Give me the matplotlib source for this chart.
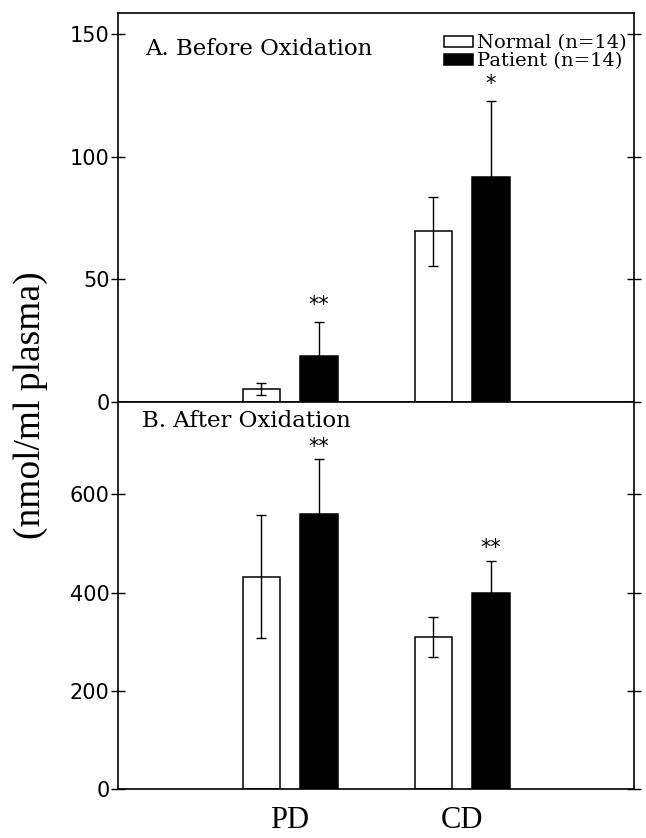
import numpy as np
from matplotlib import pyplot as plt

# values (nmol/ml plasma), mean and SD
groups = ['PD', 'CD']
before_normal     = [5.4, 69.5]
before_normal_sd  = [2.4, 14.0]
before_patient    = [18.7, 91.8]
before_patient_sd = [14.0, 30.8]
after_normal      = [432, 309]
after_normal_sd   = [125, 41]
after_patient     = [560, 399]
after_patient_sd  = [111, 66]
stars_before = ['**', '*']
stars_after  = ['**', '**']

x = np.arange(1, len(groups) + 1)
w = 0.22
off = 0.166

fig = plt.figure(figsize=(6.46, 8.38), dpi=100)
ax1 = fig.add_axes([0.1827, 0.5203, 0.7988, 0.4642])
ax2 = fig.add_axes([0.1827, 0.0585, 0.7988, 0.4618])


def panel(ax, normal, normal_sd, patient, patient_sd, stars, gap):
    errkw = dict(ecolor='black', elinewidth=1.0, capsize=3.5, capthick=1.0)
    b1 = ax.bar(x - off, normal, w, yerr=normal_sd, color='white',
                edgecolor='black', linewidth=1.1, error_kw=errkw,
                label='Normal (n=14)')
    b2 = ax.bar(x + off, patient, w, yerr=patient_sd, color='black',
                edgecolor='black', linewidth=1.1, error_kw=errkw,
                label='Patient (n=14)')
    for xi, m, s, st in zip(x + off, patient, patient_sd, stars):
        ax.annotate(st, (xi, m + s), xytext=(0, gap), textcoords='offset points',
                    ha='center', va='bottom', fontsize=15, family='DejaVu Sans')
    ax.set_xlim(0, 3)
    for sp in ax.spines.values():
        sp.set_linewidth(1.2)
    ax.tick_params(axis='y', direction='inout', length=10, width=1.0,
                   right=True, labelsize=15, pad=1)
    return b1, b2


b1, b2 = panel(ax1, before_normal, before_normal_sd,
               before_patient, before_patient_sd, stars_before, 5)
panel(ax2, after_normal, after_normal_sd,
      after_patient, after_patient_sd, stars_after, 2)

ax1.set_ylim(0, 158.5)
ax1.set_yticks([0, 50, 100, 150])
ax2.set_ylim(0, 788)
ax2.set_yticks([0, 200, 400, 600])

ax1.set_xticks([])
ax2.set_xticks(x)
ax2.set_xticklabels(groups, family='Liberation Serif', fontsize=22)
ax2.tick_params(axis='x', length=0, pad=12)

ax1.text(0.052, 0.892, 'A. Before Oxidation', transform=ax1.transAxes,
         family='DejaVu Serif', fontsize=16.5, va='baseline')
ax2.text(0.047, 0.935, 'B. After Oxidation', transform=ax2.transAxes,
         family='DejaVu Serif', fontsize=16.5, va='baseline')

ax1.legend(handles=[b1, b2], loc='upper right', bbox_to_anchor=(0.985, 0.945),
           frameon=False, prop={'family': 'DejaVu Serif', 'size': 14},
           handlelength=1.5, handleheight=0.5, handletextpad=0.2,
           labelspacing=0.0, borderpad=0, borderaxespad=0)

fig.text(0.047, 0.516, '(nmol/ml plasma)', rotation=90, ha='center',
         va='center', family='Liberation Serif', fontsize=27)

plt.savefig('out.png')
